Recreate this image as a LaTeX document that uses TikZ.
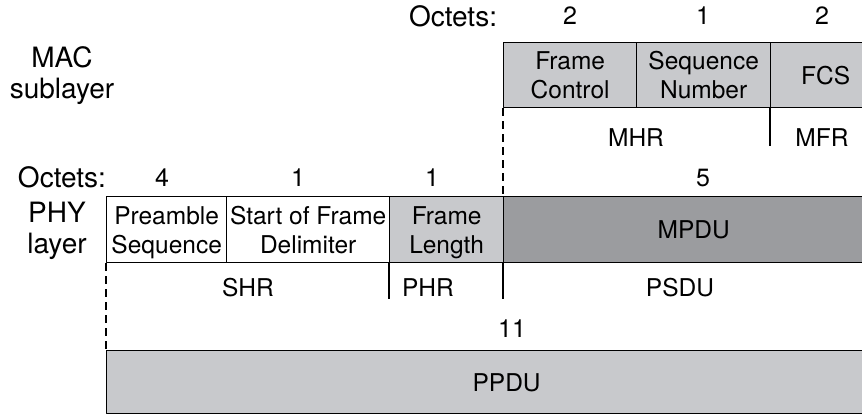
\documentclass[tikz,border=0pt]{standalone}
\usepackage{fontspec}
\setmainfont{TeX Gyre Heros}
\definecolor{lgray}{RGB}{200,201,204}
\definecolor{dgray}{RGB}{155,156,159}
\begin{document}
\begin{tikzpicture}[x=1pt, y=-1pt, font=\fontsize{24.5}{29}\selectfont, line join=round,
	cell/.style={draw, line width=1.3pt, anchor=north west, inner sep=0pt, align=center, text depth=0pt},
	side/.style={align=center, font=\fontsize{28}{31}\selectfont},
	tick/.style={line width=2.6pt},
	guide/.style={line width=1.3pt, dash pattern=on 8pt off 5pt}]
			\clip (0,0) rectangle (862,420);
			% MAC sublayer
			\node[side] (macoct) at (453,16) {Octets:};
			\foreach \x/\n in {570/2, 703/1, 822/2}
			\node[font=\fontsize{25}{30}\selectfont] at (\x,16) {\n};
			\node[side] (mac) at (62,76) {MAC\\sublayer};
			\node[cell, fill=lgray, minimum width=133pt, minimum height=65pt] (fc) at (503,42) {Frame\\Control};
			\node[cell, fill=lgray, minimum width=134pt, minimum height=65pt] (sn) at (636,42) {Sequence\\Number};
			\node[cell, fill=lgray, minimum width=110pt, minimum height=65pt, text width=92pt] (fcs) at (770,42) {FCS};
			\node (mhr) at (636,138) {MHR};
			\node (mfr) at (822,138) {MFR};
			\coordinate (mfrtick) at (770,146);
			\draw[tick] (fcs.south west) -- (mfrtick);
			% PHY layer
			\node[side] (phyoct) at (62,177) {Octets:};
			\foreach \x/\n in {162/4, 298/1, 432/1, 703/5}
			\node[font=\fontsize{25}{30}\selectfont] at (\x,178) {\n};
			\node[side] (phy) at (57,231) {PHY\\layer};
			\node[cell, minimum width=120pt, minimum height=66pt] (pre) at (106,196) {Preamble\\Sequence};
			\node[cell, minimum width=163pt, minimum height=66pt] (sfd) at (226,196) {Start of Frame\\Delimiter};
			\node[cell, fill=lgray, minimum width=114pt, minimum height=66pt] (fl) at (389,196) {Frame\\Length};
			\node[cell, fill=dgray, minimum width=380pt, minimum height=66pt, text width=320pt] (mpdu) at (503,196) {MPDU};
			\draw[guide] (fc.south west) -- (mpdu.north west);
			\node (shr) at (248,288) {SHR};
			\node (phr) at (428,288) {PHR};
			\node (psdu) at (680,288) {PSDU};
			\coordinate (phrtick) at (389,299);
			\coordinate (psdutick) at (503,299);
			\draw[tick] (fl.south west) -- (phrtick);
			\draw[tick] (mpdu.south west) -- (psdutick);
			% PPDU
			\node[font=\fontsize{25}{30}\selectfont] (ppduoct) at (512,329) {11};
			\node[cell, fill=lgray, minimum width=780pt, minimum height=63pt, text width=800pt] (ppdu) at (106,350) {PPDU};
			\draw[guide] (pre.south west) -- (ppdu.north west);
		\end{tikzpicture}
\end{document}
